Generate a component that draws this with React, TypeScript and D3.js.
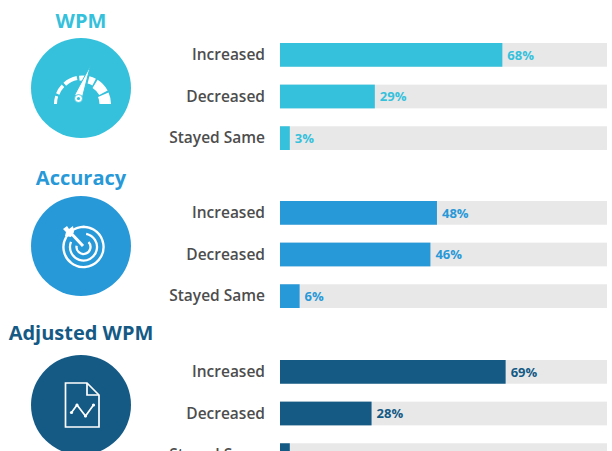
import React from "react";
import * as d3 from "d3";

const categories = ["Increased", "Decreased", "Stayed Same"];
const titles = ["WPM", "Accuracy", "Adjusted WPM"];
const colors = ["#35c1dc", "#2899d8", "#145a85"];
const wpmValues = [68, 29, 3];
const accuracyValues = [48, 46, 6];
const adjustedValues = [69, 28, 3];
const seriesValues = [wpmValues, accuracyValues, adjustedValues];
const groupBarTops = [43, 201, 360];
const titleBaselines = [28, 185, 340];
const circleCenters = [88, 246, 405];

const FONT = "'Open Sans', sans-serif";
const x = d3.scaleLinear().domain([0, 100]).range([280, 607]);
const y = d3.scaleBand().domain(categories).range([0, 107]).paddingInner(0.43).paddingOuter(0);

// [inner radius, start angle, end angle] in degrees, clockwise from top
const gaugeSegments: [number, number, number][] = [
  [25.5, -90, -73],
  [25, -68, -47],
  [24.5, -42, -12],
  [23.5, -7, 9],
  [21, 14, 28],
  [19, 32, 62],
  [17, 66, 90],
];

function Gauge() {
  const arc = d3.arc();
  return (
    <g fill="#fff">
      <g transform="translate(82.5,104)">
        {gaugeSegments.map(([inner, a, b], i) => (
          <path
            key={i}
            d={arc({ innerRadius: inner, outerRadius: 28.5, startAngle: (a * Math.PI) / 180, endAngle: (b * Math.PI) / 180 }) as string}
          />
        ))}
      </g>
      <path d="M90.5 65.5 L82.5 97 L74.5 95 Z" stroke="#35c1dc" strokeWidth={1} />
      <circle cx={78.5} cy={98.5} r={4} fill="#fff" stroke="#35c1dc" strokeWidth={0.8} />
      <circle cx={78.5} cy={98.5} r={1.6} fill="#35c1dc" />
    </g>
  );
}

function Target() {
  const cx = 81;
  const cy = 246;
  return (
    <g fill="none" stroke="#fff" strokeWidth={2.3}>
      <path d={d3.arc()({ innerRadius: 20, outerRadius: 20, startAngle: -1.05, endAngle: 5.35 }) as string} transform={`translate(${cx + 2.5},${cy + 1})`} />
      <path d={d3.arc()({ innerRadius: 13.5, outerRadius: 13.5, startAngle: 0.2, endAngle: 5.1 }) as string} transform={`translate(${cx + 2.5},${cy + 1})`} />
      <path d={d3.arc()({ innerRadius: 7, outerRadius: 7, startAngle: 0.8, endAngle: 4.9 }) as string} transform={`translate(${cx + 2.5},${cy + 1})`} />
      <path d="M69 231 L83 246" strokeWidth={3} />
      <path d="M63 229 L67 226 L69 229 L73 226 L74 232 L71 237 L65 236 L66 232 Z" fill="#fff" stroke="none" />
    </g>
  );
}

function Doc() {
  return (
    <g fill="none" stroke="#fff">
      <path d="M65.5 383 H87 L99 395 V427 H65.5 Z" strokeWidth={1.7} />
      <path d="M87 383 V395 H99" strokeWidth={1.7} />
      <path d="M71.5 412.5 L77 405 L85.5 416 L93.5 405" strokeWidth={1.7} />
      {[[71.5, 412.5], [77, 405], [85.5, 416], [93.5, 405]].map(([a, b], i) => (
        <circle key={i} cx={a} cy={b} r={1.6} fill="#fff" stroke="none" />
      ))}
    </g>
  );
}

const icons = [<Gauge key="g" />, <Target key="t" />, <Doc key="d" />];

export default function App() {
  return (
    <svg
      width={612}
      height={451}
      viewBox="0 0 612 451"
      style={{ position: "absolute", left: 0, top: 0, background: "#fff" }}
      fontFamily={FONT}
    >
      {titles.map((title, g) => (
        <g key={title}>
          <text x={81} y={titleBaselines[g]} textAnchor="middle" fontSize={20} fontWeight={700} fill={colors[g]}>
            {title}
          </text>
          <circle cx={81} cy={circleCenters[g]} r={50} fill={colors[g]} />
          {icons[g]}
          <g transform={`translate(0,${groupBarTops[g]})`}>
            {categories.map((c, i) => {
              const v = seriesValues[g][i];
              const top = y(c) as number;
              const h = y.bandwidth();
              return (
                <g key={c}>
                  <rect x={x(0)} y={top} width={x(100) - x(0)} height={h} fill="#e8e8e8" />
                  <rect x={x(0)} y={top} width={x(v) - x(0)} height={h} fill={colors[g]} />
                  <text x={265} y={top + h / 2 + 5.3} textAnchor="end" fontSize={15.5} fontWeight={600} fill="#4d4d4d">
                    {c}
                  </text>
                  <text x={x(v) + 5} y={top + h / 2 + 4.8} fontSize={13} fontWeight={700} fill={colors[g]}>
                    {v}%
                  </text>
                </g>
              );
            })}
          </g>
        </g>
      ))}
    </svg>
  );
}
